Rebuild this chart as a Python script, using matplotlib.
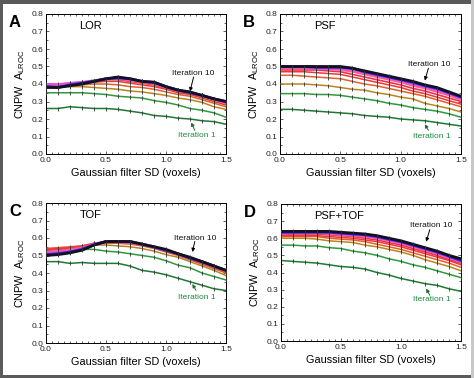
import numpy as np
import matplotlib
matplotlib.use("Agg")
import matplotlib.pyplot as plt
from matplotlib.ticker import MultipleLocator, FormatStrFormatter
from matplotlib.patches import Rectangle

plt.rcParams['font.family'] = ['Liberation Sans', 'DejaVu Sans']
plt.rcParams['mathtext.fontset'] = 'custom'
plt.rcParams['mathtext.rm'] = 'Liberation Sans'
plt.rcParams['mathtext.it'] = 'Liberation Sans:italic'

filter_sd = np.round(np.arange(0, 1.51, 0.1), 2)

lor = [
    [0.26, 0.26, 0.27, 0.265, 0.26, 0.26, 0.255, 0.245, 0.235, 0.22, 0.215, 0.205, 0.20, 0.19, 0.185, 0.17],
    [0.35, 0.35, 0.35, 0.35, 0.345, 0.34, 0.33, 0.325, 0.32, 0.305, 0.295, 0.28, 0.26, 0.25, 0.235, 0.21],
    [0.38, 0.385, 0.385, 0.385, 0.38, 0.375, 0.37, 0.36, 0.355, 0.345, 0.335, 0.32, 0.31, 0.295, 0.27, 0.255],
    [0.39, 0.39, 0.395, 0.395, 0.40, 0.40, 0.395, 0.385, 0.38, 0.37, 0.355, 0.34, 0.33, 0.31, 0.29, 0.27],
    [0.395, 0.395, 0.40, 0.405, 0.41, 0.415, 0.415, 0.405, 0.395, 0.385, 0.37, 0.35, 0.34, 0.32, 0.30, 0.28],
    [0.395, 0.395, 0.40, 0.41, 0.415, 0.425, 0.425, 0.415, 0.405, 0.395, 0.375, 0.36, 0.345, 0.33, 0.31, 0.29],
    [0.40, 0.40, 0.405, 0.41, 0.42, 0.43, 0.43, 0.42, 0.41, 0.40, 0.38, 0.365, 0.35, 0.335, 0.315, 0.295],
    [0.40, 0.395, 0.405, 0.41, 0.42, 0.43, 0.435, 0.425, 0.415, 0.405, 0.385, 0.365, 0.35, 0.335, 0.315, 0.295],
    [0.385, 0.38, 0.395, 0.405, 0.415, 0.43, 0.435, 0.43, 0.415, 0.41, 0.385, 0.365, 0.35, 0.335, 0.315, 0.30],
    [0.38, 0.38, 0.39, 0.40, 0.415, 0.43, 0.44, 0.43, 0.415, 0.41, 0.385, 0.365, 0.355, 0.335, 0.315, 0.30],
]
psf = [
    [0.255, 0.255, 0.25, 0.245, 0.24, 0.235, 0.23, 0.22, 0.215, 0.21, 0.20, 0.195, 0.19, 0.18, 0.17, 0.16],
    [0.345, 0.345, 0.345, 0.34, 0.34, 0.335, 0.325, 0.315, 0.305, 0.29, 0.28, 0.265, 0.255, 0.245, 0.23, 0.21],
    [0.40, 0.40, 0.40, 0.395, 0.39, 0.38, 0.37, 0.365, 0.35, 0.34, 0.325, 0.315, 0.29, 0.275, 0.26, 0.24],
    [0.45, 0.45, 0.445, 0.44, 0.435, 0.43, 0.415, 0.40, 0.39, 0.375, 0.36, 0.345, 0.33, 0.31, 0.29, 0.27],
    [0.47, 0.47, 0.47, 0.465, 0.46, 0.455, 0.44, 0.425, 0.41, 0.395, 0.38, 0.36, 0.345, 0.325, 0.305, 0.285],
    [0.48, 0.48, 0.48, 0.48, 0.475, 0.47, 0.455, 0.44, 0.425, 0.41, 0.395, 0.375, 0.36, 0.34, 0.32, 0.30],
    [0.49, 0.49, 0.49, 0.485, 0.485, 0.48, 0.47, 0.455, 0.44, 0.425, 0.41, 0.39, 0.375, 0.355, 0.335, 0.31],
    [0.495, 0.495, 0.495, 0.49, 0.49, 0.49, 0.48, 0.465, 0.45, 0.435, 0.42, 0.40, 0.385, 0.365, 0.345, 0.32],
    [0.50, 0.50, 0.50, 0.495, 0.495, 0.495, 0.49, 0.47, 0.455, 0.44, 0.425, 0.41, 0.39, 0.375, 0.35, 0.325],
    [0.50, 0.50, 0.50, 0.50, 0.50, 0.50, 0.49, 0.475, 0.46, 0.445, 0.43, 0.415, 0.395, 0.38, 0.355, 0.33],
]
tof = [
    [0.465, 0.465, 0.455, 0.46, 0.455, 0.455, 0.455, 0.44, 0.415, 0.405, 0.39, 0.37, 0.35, 0.33, 0.31, 0.30],
    [0.505, 0.51, 0.52, 0.535, 0.535, 0.525, 0.52, 0.51, 0.50, 0.49, 0.47, 0.445, 0.43, 0.40, 0.38, 0.36],
    [0.53, 0.535, 0.545, 0.55, 0.56, 0.56, 0.555, 0.55, 0.54, 0.525, 0.505, 0.49, 0.465, 0.44, 0.415, 0.385],
    [0.54, 0.545, 0.55, 0.555, 0.565, 0.57, 0.57, 0.565, 0.555, 0.54, 0.52, 0.50, 0.475, 0.45, 0.425, 0.40],
    [0.535, 0.54, 0.545, 0.555, 0.57, 0.575, 0.575, 0.57, 0.56, 0.545, 0.525, 0.505, 0.48, 0.455, 0.43, 0.405],
    [0.53, 0.535, 0.54, 0.55, 0.57, 0.58, 0.575, 0.575, 0.56, 0.545, 0.525, 0.505, 0.48, 0.46, 0.435, 0.41],
    [0.52, 0.525, 0.535, 0.545, 0.565, 0.58, 0.575, 0.575, 0.565, 0.545, 0.53, 0.505, 0.485, 0.46, 0.435, 0.41],
    [0.515, 0.52, 0.525, 0.54, 0.565, 0.58, 0.58, 0.575, 0.565, 0.545, 0.53, 0.51, 0.485, 0.465, 0.44, 0.415],
    [0.505, 0.51, 0.52, 0.535, 0.56, 0.58, 0.58, 0.58, 0.565, 0.55, 0.53, 0.51, 0.485, 0.465, 0.44, 0.415],
    [0.50, 0.505, 0.515, 0.53, 0.56, 0.58, 0.58, 0.58, 0.565, 0.55, 0.535, 0.51, 0.49, 0.465, 0.44, 0.415],
]
psf_tof = [
    [0.47, 0.465, 0.46, 0.455, 0.445, 0.435, 0.43, 0.42, 0.40, 0.385, 0.365, 0.35, 0.335, 0.325, 0.305, 0.29],
    [0.56, 0.56, 0.555, 0.555, 0.545, 0.54, 0.525, 0.515, 0.50, 0.48, 0.465, 0.445, 0.43, 0.41, 0.39, 0.37],
    [0.60, 0.60, 0.60, 0.595, 0.585, 0.58, 0.575, 0.56, 0.55, 0.535, 0.52, 0.50, 0.475, 0.455, 0.435, 0.41],
    [0.61, 0.61, 0.61, 0.61, 0.60, 0.595, 0.59, 0.58, 0.565, 0.55, 0.535, 0.515, 0.495, 0.475, 0.455, 0.43],
    [0.615, 0.615, 0.615, 0.615, 0.61, 0.605, 0.60, 0.59, 0.58, 0.565, 0.55, 0.53, 0.51, 0.49, 0.47, 0.445],
    [0.62, 0.625, 0.625, 0.625, 0.62, 0.615, 0.61, 0.60, 0.59, 0.575, 0.56, 0.54, 0.52, 0.50, 0.475, 0.455],
    [0.625, 0.63, 0.63, 0.63, 0.625, 0.62, 0.615, 0.61, 0.60, 0.585, 0.57, 0.55, 0.53, 0.51, 0.485, 0.46],
    [0.63, 0.63, 0.635, 0.635, 0.63, 0.625, 0.62, 0.615, 0.605, 0.59, 0.575, 0.555, 0.535, 0.515, 0.49, 0.465],
    [0.635, 0.635, 0.635, 0.635, 0.635, 0.63, 0.625, 0.62, 0.61, 0.595, 0.58, 0.56, 0.54, 0.52, 0.495, 0.47],
    [0.64, 0.64, 0.64, 0.64, 0.64, 0.635, 0.63, 0.625, 0.615, 0.60, 0.585, 0.565, 0.545, 0.525, 0.50, 0.48],
]

panel_letters = ['A', 'B', 'C', 'D']
panel_titles = ['LOR', 'PSF', 'TOF', 'PSF+TOF']
panel_data = [lor, psf, tof, psf_tof]
iter_colors = ['#1d7a35', '#2e9a3e', '#b8861e', '#e2602a', '#e83a36',
               '#f03050', '#ff5c8a', '#e050e0', '#2828d8', '#101020']
iter_widths = [1.1, 1.1, 1.1, 1.1, 1.1, 1.2, 1.4, 1.7, 2.0, 2.0]

# annotation positions (data coords): text xy, arrow tip, arrow tail
ann10 = [((1.23, 0.46), (1.20, 0.358), (1.23, 0.44)),
         ((1.24, 0.51), (1.20, 0.42), (1.23, 0.49)),
         ((1.24, 0.60), (1.22, 0.52), (1.24, 0.58)),
         ((1.25, 0.673), (1.21, 0.58), (1.24, 0.65))]
ann1 = [((1.26, 0.108), (1.21, 0.18), (1.24, 0.135)),
        ((1.26, 0.10), (1.20, 0.17), (1.23, 0.135)),
        ((1.26, 0.26), (1.22, 0.337), (1.25, 0.30)),
        ((1.26, 0.244), (1.21, 0.306), (1.24, 0.267))]

W, H = 474, 378
fig = plt.figure(figsize=(W / 100, H / 100), dpi=100)
fig.patches.append(Rectangle((0, 0), 1, 1, transform=fig.transFigure,
                             facecolor='white', edgecolor='none', zorder=-10))
# gray frame
frame = dict(transform=fig.transFigure, facecolor='#5a5a5a', edgecolor='none', zorder=10)
fig.patches.append(Rectangle((0, 1 - 4 / H), 1, 4 / H, **frame))
fig.patches.append(Rectangle((0, 0), 3 / W, 1, **frame))
fig.patches.append(Rectangle((0, 0), 1, 3 / H, **frame))
fig.patches.append(Rectangle((1 - 3 / W, 0), 3 / W, 1, transform=fig.transFigure,
                             facecolor='#c8c8c8', edgecolor='none', zorder=10))

# axes boxes in pixels (left, top, right, bottom)
boxes = [(46, 14, 226, 154), (280, 14, 461, 154),
         (46, 203, 226, 343), (281, 204, 461, 341)]

for i in range(4):
    l, t, r, b = boxes[i]
    ax = fig.add_axes([l / W, 1 - b / H, (r - l) / W, (b - t) / H])
    for k, series in enumerate(panel_data[i]):
        ax.plot(filter_sd, series, color=iter_colors[k], lw=iter_widths[k],
                marker='|', ms=2.5, mew=0.6, mec='#333333', zorder=2 + k)
    ax.set_xlim(0, 1.5)
    ax.set_ylim(0, 0.8)
    ax.xaxis.set_major_locator(MultipleLocator(0.5))
    ax.xaxis.set_minor_locator(MultipleLocator(0.05))
    ax.yaxis.set_major_locator(MultipleLocator(0.1))
    ax.yaxis.set_minor_locator(MultipleLocator(0.05))
    ax.xaxis.set_major_formatter(FormatStrFormatter('%.1f'))
    ax.yaxis.set_major_formatter(FormatStrFormatter('%.1f'))
    ax.tick_params(which='both', direction='in', top=True, right=True,
                   labelsize=6, pad=2, width=0.5, colors='#222222')
    ax.tick_params(which='major', length=2.5)
    ax.tick_params(which='minor', length=1.3)
    for s in ax.spines.values():
        s.set_linewidth(0.7)
    ax.set_xlabel('Gaussian filter SD (voxels)', fontsize=7.8, labelpad=3)
    ax.set_ylabel(r'CNPW  A$_{\mathrm{LROC}}$', fontsize=7.8, labelpad=3)
    ax.text(0.28, 0.73, panel_titles[i], fontsize=8, ha='left', va='center')
    fig.text((l - 37) / W, 1 - (t + 1) / H, panel_letters[i], fontsize=12,
             fontweight='bold', ha='left', va='top')
    (tx, ty), tip, tail = ann10[i]
    ax.text(tx, ty, 'Iteration 10', fontsize=6, ha='center', va='center', color='#111111')
    ax.annotate('', xy=tip, xytext=tail,
                arrowprops=dict(arrowstyle='-|>', color='black', lw=0.7,
                                mutation_scale=5, shrinkA=0, shrinkB=0))
    (tx, ty), tip, tail = ann1[i]
    ax.text(tx, ty, 'Iteration 1', fontsize=6, ha='center', va='center', color='#1d8a40')
    ax.annotate('', xy=tip, xytext=tail,
                arrowprops=dict(arrowstyle='-|>', color='#1d6a30', lw=0.7,
                                mutation_scale=5, shrinkA=0, shrinkB=0))

fig.savefig('out.png', dpi=100)
